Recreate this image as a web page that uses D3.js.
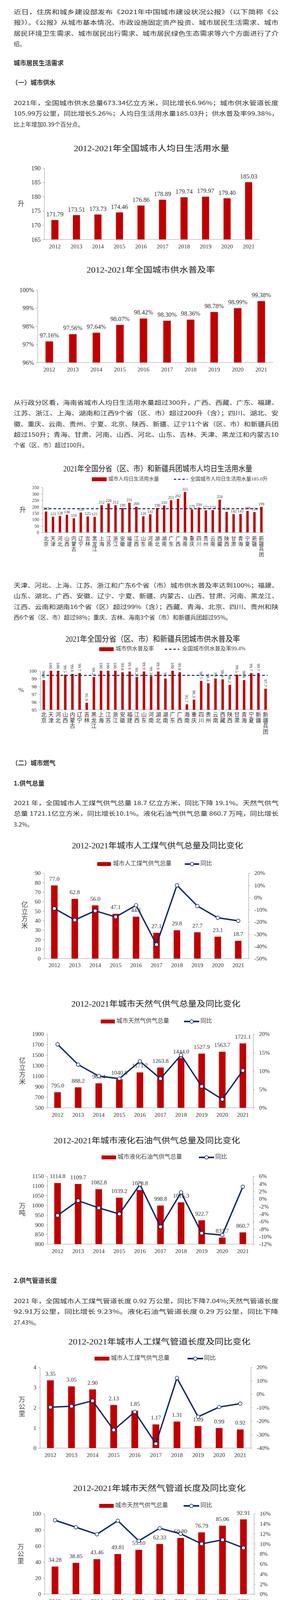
<!DOCTYPE html>
<html><head><meta charset="utf-8">
<script src="https://cdn.jsdelivr.net/npm/d3@7"></script>
<style>body{margin:0;background:#fff}svg{display:block}</style>
</head><body>
<script>
// ---------- DATA ----------
const years = ["2012","2013","2014","2015","2016","2017","2018","2019","2020","2021"];
const waterPerCapita = [171.79,173.51,173.73,174.46,176.86,178.89,179.74,179.97,179.40,185.03];
const waterCoverage = [97.16,97.56,97.64,98.07,98.42,98.30,98.36,98.78,98.99,99.38];
const provinces = ["北京","天津","河北","山西","内蒙古","辽宁","吉林","黑龙江","上海","江苏","浙江","安徽","福建","江西","山东","河南","湖北","湖南","广东","广西","海南","重庆","四川","贵州","云南","西藏","陕西","甘肃","青海","宁夏","新疆","新疆兵团"];
const provWater = [163,123,128,138,110,155,125,121,212,226,212,190,231,200,126,141,190,210,251,262,315,179,194,172,174,256,161,142,143,168,159,199];
const provCoverage = [98.8,100,100,99.5,99.6,99.7,95.9,99.2,100,100,100,99.8,99.9,99.2,99.9,99.3,99.9,99.0,100,99.8,95.7,96.3,98.7,98.4,99.0,98.9,98.2,99.5,98.8,99.7,99.7,97.7];
const nationalWater = 185.0;
const nationalCoverage = 99.4;
const coalGas = [77.0,62.8,56.0,47.1,44.1,27.1,29.8,27.7,23.1,18.7];
const coalGasYoy = [-9.0,-18.4,-10.9,-15.9,-6.4,-38.5,10.0,-7.0,-16.6,-19.1];
const natGas = [795.0,888.2,964.4,1040.8,1171.7,1263.8,1444.0,1527.9,1563.7,1721.1];
const natGasYoy = [17.2,11.7,8.6,7.9,12.6,7.9,14.3,5.8,2.3,10.1];
const lpg = [1114.8,1109.7,1082.8,1039.2,1078.8,998.8,1015.3,922.7,833.7,860.7];
const lpgYoy = [-4.4,-0.5,-2.4,-4.0,3.8,-7.4,1.7,-9.1,-9.6,3.2];
const coalPipe = [3.35,3.05,2.90,2.13,1.85,1.17,1.31,1.09,0.99,0.92];
const coalPipeYoy = [-9.7,-9.0,-4.9,-26.6,-13.2,-36.8,12.0,-16.8,-9.6,-7.0];
const natPipe = [34.28,38.85,43.46,49.81,55.10,62.33,69.80,76.79,85.06,92.91];
const natPipeYoy = [14.7,13.3,11.9,14.6,10.6,13.1,12.0,10.0,10.8,9.2];
const lpgPipe = [1.27,1.34,1.10,0.90,0.87,0.62,0.48,0.45,0.40,0.29];
const lpgPipeYoy = [-1.9,6.3,-18.2,-18.2,-3.1,-28.6,-22.0,-8.1,-10.0,-27.4];

const RED="#C00000", NAVY="#112769";
const SERIF="'Liberation Serif','Times New Roman','Noto Sans CJK SC',serif";
const SANS="'Noto Sans CJK SC','Noto Sans',sans-serif";

const svg=d3.select("body").append("svg").attr("width",727).attr("height",4487);
svg.append("rect").attr("width",727).attr("height",4487).attr("fill","#fff");

// ---------- TEXT ----------
function para(lines,y0){
  lines.forEach((t,i)=>{
    const el=svg.append("text").attr("x",35).attr("y",y0+i*27.3).attr("dominant-baseline","middle")
      .attr("font-family",SANS).attr("font-size",15).attr("fill","#333").text(t);
    if(i<lines.length-1) el.attr("textLength",678).attr("lengthAdjust","spacingAndGlyphs");
  });
}
function heading(t,y,x){svg.append("text").attr("x",x||35).attr("y",y).attr("dominant-baseline","middle")
  .attr("font-family",SANS).attr("font-size",16).attr("font-weight","bold").attr("fill","#333").text(t);}

para(["近日，住房和城乡建设部发布《2021年中国城市建设状况公报》（以下简称《公","报》）。《公报》从城市基本情况、市政设施固定资产投资、城市居民生活需求、城市","居民环境卫生需求、城市居民出行需求、城市居民绿色生态需求等六个方面进行了介","绍。"],32);
heading("城市居民生活需求",163);
heading("（一）城市供水",213,30);
para(["2021年，全国城市供水总量673.34亿立方米，同比增长6.96%；城市供水管道长度","105.99万公里，同比增长5.26%；人均日生活用水量185.03升；供水普及率99.38%，","比上年增加0.39个百分点。"],265);
para(["从行政分区看，海南省城市人均日生活用水量超过300升，广西、西藏、广东、福建、","江苏、浙江、上海、湖南和江西9个省（区、市）超过200升（含）；四川、湖北、安","徽、重庆、云南、贵州、宁夏、北京、陕西、新疆、辽宁11个省（区、市）和新疆兵团","超过150升；青海、甘肃、河南、山西、河北、山东、吉林、天津、黑龙江和内蒙古10","个省（区、市）超过100升。"],1032);
para(["天津、河北、上海、江苏、浙江和广东6个省（市）城市供水普及率达到100%；福建、","山东、湖北、广西、安徽、辽宁、宁夏、新疆、内蒙古、山西、甘肃、河南、黑龙江、","江西、云南和湖南16个省（区）超过99%（含）；西藏、青海、北京、四川、贵州和陕","西6个省（区、市）超过98%；重庆、吉林、海南3个省（市）和新疆兵团超过95%。"],1500);
heading("（二）城市燃气",1955,30);
heading("1.供气总量",2007);
para(["2021 年，全国城市人工煤气供气总量 18.7 亿立方米，同比下降 19.1%。天然气供气","总量 1721.1亿立方米，同比增长10.1%。液化石油气供气总量 860.7 万吨，同比增长","3.2%。"],2057);
heading("2.供气管道长度",3280);
para(["2021 年，全国城市人工煤气管道长度 0.92 万公里，同比下降7.04%;天然气管道长度","92.91万公里，同比增长 9.23%。液化石油气管道长度 0.29 万公里，同比下降","27.43%。"],3332);

// ---------- CHART ----------
function chart(c){
  const g=svg.append("g");
  const x=d3.scaleBand().domain(c.cats).range([c.x0,c.x1]).paddingInner(c.pad).paddingOuter(c.pad/2);
  const y=d3.scaleLinear().domain(c.yDomain).range([c.bottom,c.top]);
  // title
  g.append("text").attr("x",c.tx).attr("y",c.ty).attr("text-anchor","middle").attr("dominant-baseline","middle")
    .attr("font-family",SERIF).attr("font-size",20).attr("fill","#222").attr("textLength",c.tw).attr("lengthAdjust","spacingAndGlyphs").text(c.title);
  // left axis
  const ax=g.append("g").attr("transform",`translate(${c.x0},0)`)
    .call(d3.axisLeft(y).tickValues(c.yTicks).tickSize(4).tickSizeOuter(0).tickFormat(c.yFmt||(d=>d)));
  ax.select(".domain").attr("stroke","#999");
  ax.selectAll(".tick line").attr("stroke","#999");
  ax.selectAll("text").attr("font-family",SERIF).attr("font-size",c.tickFs||15).attr("fill","#333").attr("dx",-2);
  // baseline
  g.append("line").attr("x1",c.x0).attr("x2",c.x1).attr("y1",c.bottom).attr("y2",c.bottom).attr("stroke","#999");
  // bars
  g.selectAll(".bar").data(c.vals).join("rect").attr("fill",RED)
    .attr("x",(d,i)=>x(c.cats[i])).attr("width",x.bandwidth())
    .attr("y",d=>y(Math.min(d,c.yDomain[1]))).attr("height",d=>c.bottom-y(Math.min(d,c.yDomain[1])));
  // x labels
  const cx=i=>x(c.cats[i])+x.bandwidth()/2;
  if(c.vertLabels){
    c.cats.forEach((t,i)=>{[...t].forEach((ch,k)=>{
      g.append("text").attr("x",cx(i)).attr("y",c.xLabelY+k*c.charStep).attr("text-anchor","middle").attr("dominant-baseline","middle")
        .attr("font-family",SERIF).attr("font-size",c.labelFs).attr("fill","#333").text(ch);});});
  } else {
    g.selectAll(".xl").data(c.cats).join("text").attr("x",(d,i)=>cx(i)).attr("y",c.xLabelY).attr("text-anchor","middle")
      .attr("dominant-baseline","middle").attr("font-family",SERIF).attr("font-size",15).attr("fill","#333").text(d=>d);
  }
  // value labels
  if(c.rotLabels){
    c.vals.forEach((d,i)=>g.append("text").attr("transform",`translate(${cx(i)-4},${y(d)-5}) rotate(90)`)
      .attr("text-anchor","end").attr("font-family",SERIF).attr("font-size",c.valFs).attr("fill","#333").text(c.vFmt(d)));
  } else {
    c.vals.forEach((d,i)=>g.append("text").attr("x",cx(i)+(c.valDx||0)).attr("y",y(d)-(c.valGap||8)).attr("text-anchor","middle")
      .attr("font-family",SERIF).attr("font-size",c.valFs).attr("fill","#333").text(c.vFmt(d)));
  }
  // y label
  if(c.ylabel){[...c.ylabel].forEach((ch,k)=>g.append("text").attr("x",c.ylx).attr("y",c.yly+k*18).attr("text-anchor","middle")
    .attr("dominant-baseline","middle").attr("font-family",SERIF).attr("font-size",17).attr("fill","#444").text(ch));}
  // reference dashed line
  if(c.ref!=null){
    g.append("line").attr("x1",c.x0+4).attr("x2",c.x1-4).attr("y1",y(c.ref)).attr("y2",y(c.ref))
      .attr("stroke",NAVY).attr("stroke-width",2.5).attr("stroke-dasharray","7,5");
  }
  // yoy line
  if(c.yoy){
    const r=d3.scaleLinear().domain(c.rDomain).range([c.bottom,c.top]);
    const ar=g.append("g").attr("transform",`translate(${c.x1},0)`)
      .call(d3.axisRight(r).tickValues(c.rTicks).tickSize(4).tickSizeOuter(0).tickFormat(d=>d+"%"));
    ar.select(".domain").attr("stroke","#999");
    ar.selectAll(".tick line").attr("stroke","#999");
    ar.selectAll("text").attr("font-family",SERIF).attr("font-size",15).attr("fill","#333").attr("dx",8);
    g.append("path").datum(c.yoy).attr("fill","none").attr("stroke",NAVY).attr("stroke-width",3.5)
      .attr("d",d3.line().x((d,i)=>cx(i)).y(d=>r(d)));
    g.selectAll(".mk").data(c.yoy).join("circle").attr("cx",(d,i)=>cx(i)).attr("cy",d=>r(d)).attr("r",4.5)
      .attr("fill","#fff").attr("stroke",NAVY).attr("stroke-width",1.5);
  }
  // legend
  if(c.legend){
    const L=c.legend;
    g.append("rect").attr("x",L.sx).attr("y",L.y-5).attr("width",L.sw).attr("height",10).attr("fill",RED);
    g.append("text").attr("x",L.tx).attr("y",L.y).attr("dominant-baseline","middle").attr("font-family",SERIF)
      .attr("font-size",L.fs||15).attr("fill","#444").text(L.t1);
    if(L.dash){
      g.append("line").attr("x1",L.lx).attr("x2",L.lx2).attr("y1",L.y).attr("y2",L.y).attr("stroke",NAVY).attr("stroke-width",2.5).attr("stroke-dasharray","6,5");
    } else {
      g.append("line").attr("x1",L.lx).attr("x2",L.lx2).attr("y1",L.y).attr("y2",L.y).attr("stroke",NAVY).attr("stroke-width",4);
      g.append("circle").attr("cx",(L.lx+L.lx2)/2).attr("cy",L.y).attr("r",4.5).attr("fill","#fff").attr("stroke",NAVY).attr("stroke-width",1.5);
    }
    g.append("text").attr("x",L.t2x).attr("y",L.y).attr("dominant-baseline","middle").attr("font-family",SERIF)
      .attr("font-size",L.fs||15).attr("fill","#444").text(L.t2);
  }
}
const rng=(a,b,s)=>d3.range(a,b+s/2,s);

chart({cats:years,vals:waterPerCapita,yDomain:[165,190],yTicks:rng(165,190,5),top:430,bottom:613,x0:113,x1:664,pad:0.67,
  title:"2012-2021年全国城市人均日生活用水量",tx:388,ty:382,tw:398,xLabelY:633,valFs:16,vFmt:d=>d.toFixed(2),valGap:9,
  ylabel:"升",ylx:54,yly:523,tickFs:16});
chart({cats:years,vals:waterCoverage,yDomain:[96,100],yTicks:rng(96,100,1),yFmt:d=>d+"%",top:742,bottom:928,x0:96,x1:699,pad:0.68,
  title:"2012-2021年全国城市供水普及率",tx:386,ty:693,tw:329,xLabelY:948,valFs:16,vFmt:d=>d.toFixed(2)+"%",valGap:10,tickFs:16});
chart({cats:provinces,vals:provWater,yDomain:[0,350],yTicks:rng(0,350,50),top:1248,bottom:1363,x0:109,x1:678,pad:0.65,
  title:"2021年全国分省（区、市）和新疆兵团城市人均日生活用水量",tx:404,ty:1202,tw:484,vertLabels:true,xLabelY:1380,charStep:13.7,labelFs:13,
  valFs:10,vFmt:d=>d,valGap:4,tickFs:12,ylabel:"升",ylx:58,yly:1307,ref:nationalWater,
  legend:{y:1227,sx:235,sw:38,tx:277,t1:"城市人均日生活用水量",lx:445,lx2:480,t2x:487,t2:"全国城市人均日生活用水量185.0升",dash:true,fs:13}});
chart({cats:provinces,vals:provCoverage,yDomain:[95,100],yTicks:rng(95,100,1),top:1717,bottom:1817,x0:103,x1:689,pad:0.65,
  title:"2021年全国分省（区、市）和新疆兵团城市供水普及率",tx:391,ty:1638,tw:447,vertLabels:true,xLabelY:1831,charStep:14.5,labelFs:14,
  rotLabels:true,valFs:11,vFmt:d=>d%1===0?String(d):d.toFixed(1),tickFs:13,ylabel:"%",ylx:54,yly:1768,ref:nationalCoverage,
  legend:{y:1662,sx:254,sw:37,tx:296,t1:"城市供水普及率",lx:422,lx2:459,t2x:466,t2:"全国城市供水普及率99.4%",dash:true,fs:14}});
chart({cats:years,vals:coalGas,yDomain:[0,90],yTicks:rng(0,90,10),top:2235,bottom:2454,x0:113,x1:636,pad:0.68,
  title:"2012-2021年城市人工煤气供气总量及同比变化",tx:403,ty:2167,tw:438,xLabelY:2473,valFs:15,vFmt:d=>d.toFixed(1),valGap:12,
  ylabel:"亿立方米",ylx:63,yly:2318,yoy:coalGasYoy,rDomain:[-50,20],rTicks:rng(-50,20,10),
  legend:{y:2212,sx:249,sw:35,tx:289,t1:"城市人工煤气供气总量",lx:473,lx2:510,t2x:513,t2:"同比"}});
chart({cats:years,vals:natGas,yDomain:[500,1900],yTicks:rng(500,1900,200),top:2647,bottom:2836,x0:121,x1:648,pad:0.68,
  title:"2012-2021年城市天然气供气总量及同比变化",tx:399,ty:2572,tw:433,xLabelY:2856,valFs:15,vFmt:d=>d.toFixed(1),valGap:12,
  ylabel:"亿立方米",ylx:57,yly:2717,yoy:natGasYoy,rDomain:[0,20],rTicks:rng(0,20,5),
  legend:{y:2615,sx:258,sw:36,tx:298,t1:"城市天然气供气总量",lx:471,lx2:510,t2x:513,t2:"同比"}});
chart({cats:years,vals:lpg,yDomain:[800,1150],yTicks:rng(800,1150,50),top:3011,bottom:3185,x0:121,x1:648,pad:0.68,
  title:"2012-2021年城市液化石油气供气总量及同比变化",tx:376,ty:2922,tw:477,xLabelY:3205,valFs:15,vFmt:d=>d.toFixed(1),valGap:12,
  ylabel:"万吨",ylx:57,yly:3089,yoy:lpgYoy,rDomain:[-12,6],rTicks:rng(-12,6,2),
  legend:{y:2963,sx:260,sw:37,tx:301,t1:"城市液化石油气供气总量",lx:509,lx2:548,t2x:551,t2:"同比"}});
chart({cats:years,vals:coalPipe,yDomain:[0,4],yTicks:rng(0,4,1),top:3500,bottom:3707,x0:102,x1:642,pad:0.68,
  title:"2012-2021年城市人工煤气管道长度及同比变化",tx:408,ty:3437,tw:466,xLabelY:3727,valFs:15,vFmt:d=>d.toFixed(2),valGap:12,
  ylabel:"万公里",ylx:56,yly:3585,yoy:coalPipeYoy,rDomain:[-40,20],rTicks:rng(-40,20,10),
  legend:{y:3478,sx:242,sw:38,tx:284,t1:"城市人工煤气供气总量",lx:480,lx2:520,t2x:522,t2:"同比"}});
chart({cats:years,vals:natPipe,yDomain:[0,100],yTicks:rng(0,100,20),top:3875,bottom:4081,x0:114,x1:650,pad:0.68,
  title:"2012-2021年城市天然气管道长度及同比变化",tx:408,ty:3812,tw:441,xLabelY:4101,valFs:15,vFmt:d=>d.toFixed(2),valGap:12,
  ylabel:"万公里",ylx:53,yly:3962,yoy:natPipeYoy,rDomain:[0,16],rTicks:rng(0,16,2),
  legend:{y:3855,sx:254,sw:37,tx:295,t1:"城市天然气供气总量",lx:470,lx2:510,t2x:513,t2:"同比"}});
chart({cats:years,vals:lpgPipe,yDomain:[0,2],yTicks:rng(0,2,1),top:4230,bottom:4435,x0:114,x1:650,pad:0.68,
  title:"2012-2021年城市液化石油气管道长度及同比变化",tx:430,ty:4168,tw:488,xLabelY:4455,valFs:15,vFmt:d=>d.toFixed(2),valGap:12,
  ylabel:"万公里",ylx:69,yly:4315,yoy:lpgPipeYoy,rDomain:[-35,10],rTicks:rng(-35,10,5),
  legend:{y:4210,sx:255,sw:38,tx:296,t1:"城市液化石油气供气总量",lx:509,lx2:549,t2x:552,t2:"同比"}});
</script>
</body></html>
